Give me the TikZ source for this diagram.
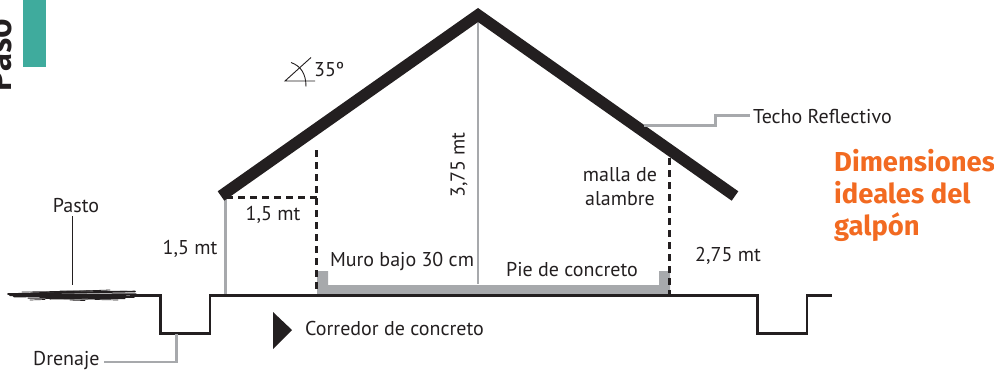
\documentclass[tikz,border=0pt]{standalone}
\usepackage{fontspec}
\setmainfont{PT Sans}
\newfontfamily\titlefont{Fira Sans}
\definecolor{ink}{HTML}{231F20}
\definecolor{greyline}{HTML}{A7A9AC}
\definecolor{teal2}{HTML}{3FAB9D}
\definecolor{orange2}{HTML}{F26A21}
\begin{document}
\begin{tikzpicture}[x=1pt,y=-1pt,
  lbl/.style={font=\fontsize{20}{23}\selectfont,text=ink,inner sep=0pt,align=center},
  ground/.style={draw=ink,line width=2.8pt,line join=miter},
  greyconn/.style={draw=greyline,line width=2.6pt},
  dashline/.style={draw=ink,line width=2.4pt,dash pattern=on 7pt off 5pt},
  thin1/.style={draw=ink,line width=0.9pt}]
\useasboundingbox (0,0) rectangle (994,370);
\clip (0,0) rectangle (994,370);
% teal tab
\fill[teal2] (22.5,0) rectangle (45.5,67);
\node[font=\fontsize{36.5}{38}\selectfont\bfseries,text=ink,rotate=90,anchor=south west,inner sep=0pt] (paso) at (12,92) {Paso};
% concrete footing
\fill[greyline] (317,271) -- (328,271) -- (328,285) -- (659,285) -- (659,271) -- (670,271) -- (670,295) -- (317,295) -- cycle;
% coordinates
\coordinate (apex) at (478,15);
\coordinate (eaveL) at (221,196);
\coordinate (eaveR) at (735,196);
\coordinate (gL) at (226,295);
\coordinate (midbase) at (478,284);
\coordinate (dL) at (316.5,295);
\coordinate (dR) at (669.5,295);
\coordinate (dLt) at (316.5,150);
\coordinate (dRt) at (669.5,158);
\coordinate (dstart) at (224,197.5);
\coordinate (dcorner) at (316.5,197.5);
% grey verticals
\draw[greyconn] (apex) -- (midbase);
\draw[greyconn] (eaveL |- dstart) ++(4.5,0) coordinate (gtop) -- (gtop |- gL);
% dashed
\draw[dashline] (dLt) -- (dL);
\draw[dashline] (dRt) -- (dR);
\draw[dashline] (dcorner) -- (dstart);
% roof
\draw[draw=ink,line width=11.5pt,line join=miter,miter limit=10] (eaveL) -- (apex) -- (eaveR);
% ground
\draw[ground] (130,295.5) -- (160.5,295.5) -- (160.5,333.5) -- (210,333.5) -- (210,295.5) -- (757.5,295.5) -- (757.5,333.5) -- (807,333.5) -- (807,295.5) -- (832,295.5);
% grass
\foreach \a/\b/\c/\d/\w in {8/294/135/291.5/1.6, 10/295/136/294.5/2.2, 14/296/125/295.5/2.6, 30/293/110/290/0.8, 22/292/90/291/0.7, 40/297/134/297/1.6, 28/298/100/299/1.0, 50/299/125/298.5/1.0, 60/291/128/291.5/1.0, 70/300/85/300.5/0.8, 30/300/45/299.5/0.7, 35/294/60/292.5/1.2, 95/299.5/118/300/0.7}
  \draw[ink,line width=\w pt,line cap=round] (\a,\b) -- (\c,\d);
% labels
\node[lbl] (pasto) at (76,206) {Pasto};
\coordinate (pastoend) at (72.5,285);
\draw[thin1] (72.5,216) -- (pastoend);
\node[lbl,anchor=west] (drenaje) at (33,361) {Drenaje};
\coordinate (drencorner) at (176.5,362);
\coordinate (drentop) at (176.5,334);
\draw[greyconn] (104,362) -- (drencorner) -- (drentop);
\node[lbl] (l15a) at (190,249) {1,5 mt};
\node[lbl] (l15b) at (273,215) {1,5 mt};
\node[lbl,rotate=90] (l375) at (459,165) {3,75 mt};
\node[lbl] (muro) at (402,261) {Muro bajo 30 cm};
\node[lbl] (pie) at (572,270) {Pie de concreto};
\node[lbl] (malla) at (620,175) {malla de};
\node[lbl] (alambre) at (620,199) {alambre};
\node[lbl] (l275) at (728,256) {2,75 mt};
\node[lbl,anchor=west] (techo) at (753,116) {Techo Reflectivo};
\coordinate (t1) at (715.5,115.5);
\coordinate (t2) at (715.5,125.5);
\coordinate (t3) at (644,125.5);
\draw[greyconn] (techo.west) ++(-3,-0.5) -- (t1) -- (t2) -- (t3);
\node[lbl,anchor=west] (corredor) at (305,328) {Corredor de concreto};
\fill[ink] (273,312) -- (292,330) -- (273,349) -- cycle;
\node[font=\titlefont\fontsize{27.4}{32}\selectfont\bfseries,text=orange2,anchor=north west,align=left,inner sep=0pt] (titulo) at (834,149) {Dimensiones\\ideales del\\galpón};
% angle mark
\draw[thin1] (311,57.5) -- (285,81) -- (315,81);
\draw[thin1] (291,62.5) .. controls (301,66) and (306,74) .. (306,86.5);
\node[lbl,anchor=west] (ang) at (314,69) {35º};
\end{tikzpicture}
\end{document}
